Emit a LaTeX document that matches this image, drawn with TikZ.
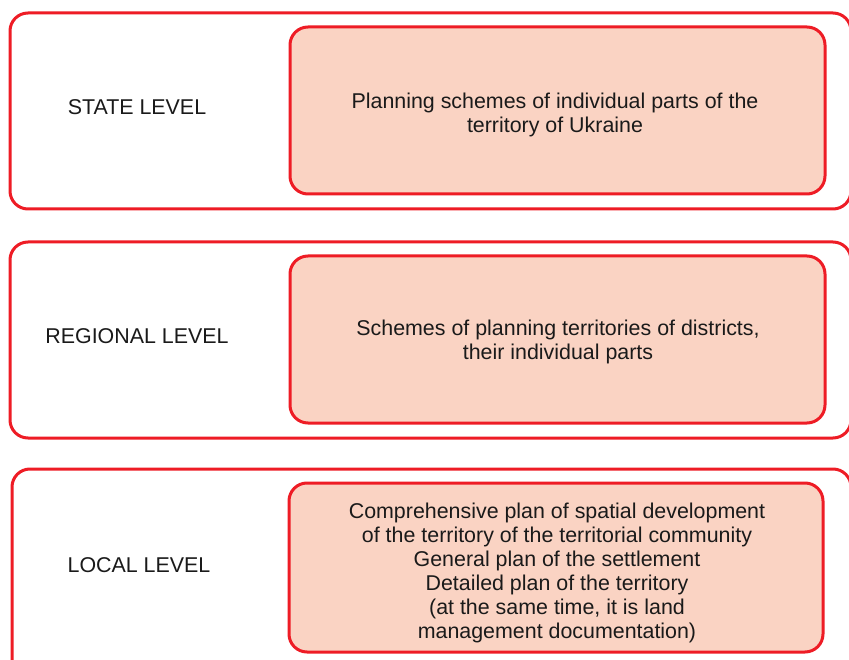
\documentclass[tikz,border=0pt]{standalone}
\usepackage{fontspec}
\setmainfont{Liberation Sans}
\definecolor{boxred}{HTML}{EE1C25}
\definecolor{boxfill}{HTML}{FAD3C3}
\definecolor{ink}{HTML}{1A1A1A}
\begin{document}
\begin{tikzpicture}[x=1pt,y=-1pt,
  levelbox/.style={draw=boxred,line width=3pt,rounded corners=18pt,fill=white},
  docbox/.style={draw=boxred,line width=3pt,rounded corners=18pt,fill=boxfill},
  levellabel/.style={text=ink,font=\fontsize{21.4}{24}\selectfont,anchor=center},
  doclabel/.style={text=ink,font=\fontsize{21.4}{24}\selectfont,align=center,anchor=center}]
\useasboundingbox (0,0) rectangle (849,660);
\clip (0,0) rectangle (849,660);
% state level
\draw[levelbox] (10,13) rectangle (851,209);
\draw[docbox] (290,27) rectangle (825,194);
\node[levellabel] (state) at (137,107) {STATE LEVEL};
\node[doclabel] (statedoc) at (555,114.5) {Planning schemes of individual parts of the\\territory of Ukraine};
% regional level
\draw[levelbox] (10,242) rectangle (851,438);
\draw[docbox] (290,256) rectangle (825,423);
\node[levellabel] (regional) at (137,336) {REGIONAL LEVEL};
\node[doclabel] (regionaldoc) at (558,341.5) {Schemes of planning territories of districts,\\their individual parts};
% local level
\draw[levelbox] (12,469) rectangle (851,680);
\draw[docbox] (289,483) rectangle (823,652);
\node[levellabel] (local) at (139,565) {LOCAL LEVEL};
\node[doclabel] (localdoc) at (557,573) {Comprehensive plan of spatial development\\of the territory of the territorial community\\General plan of the settlement\\Detailed plan of the territory\\(at the same time, it is land\\management documentation)};
\end{tikzpicture}
\end{document}
